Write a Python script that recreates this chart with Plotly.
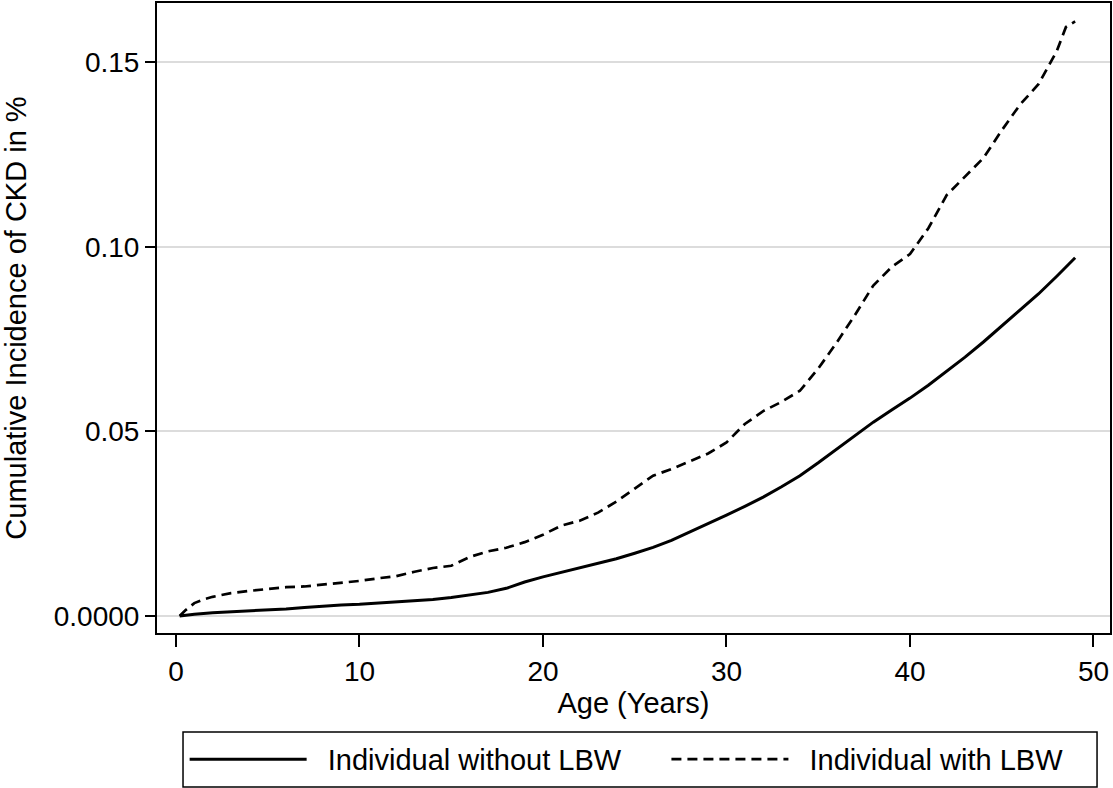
import plotly.graph_objects as go

# Data
age_no_lbw = [0.2, 1, 2, 3, 4, 5, 6, 7, 8, 9, 10, 11, 12, 13, 14, 15, 16, 17, 18, 19,
              20, 21, 22, 23, 24, 25, 26, 27, 28, 29, 30, 31, 32, 33, 34, 35, 36, 37,
              38, 39, 40, 41, 42, 43, 44, 45, 46, 47, 48, 49]
ci_no_lbw = [0.0, 0.0005, 0.0009, 0.0011, 0.0013, 0.0016, 0.0019, 0.0023, 0.0027, 0.0030,
             0.0032, 0.0035, 0.0038, 0.0041, 0.0045, 0.0050, 0.0056, 0.0064, 0.0075, 0.0092,
             0.0106, 0.0118, 0.0130, 0.0142, 0.0155, 0.0170, 0.0186, 0.0205, 0.0227, 0.0250,
             0.0273, 0.0297, 0.0322, 0.0350, 0.0380, 0.0415, 0.0452, 0.0490, 0.0525, 0.0558,
             0.0590, 0.0625, 0.0662, 0.0701, 0.0742, 0.0785, 0.0828, 0.0872, 0.0920, 0.0970]

age_lbw = [0.2, 0.5, 1, 1.5, 2, 3, 4, 5, 6, 7, 8, 9, 10, 11, 12, 13, 14, 15, 16, 17, 18,
           19, 20, 21, 22, 23, 24, 25, 26, 27, 28, 29, 30, 31, 32, 33, 34, 35, 36, 37, 38,
           39, 40, 41, 42, 43, 44, 45, 46, 47, 48, 48.5, 49]
ci_lbw = [0.0, 0.0015, 0.0035, 0.0045, 0.0052, 0.0062, 0.0068, 0.0073, 0.0078, 0.0080,
          0.0085, 0.0088, 0.0095, 0.0102, 0.0108, 0.0120, 0.0130, 0.0136, 0.0160, 0.0175,
          0.0185, 0.0200, 0.0220, 0.0245, 0.0258, 0.0280, 0.0310, 0.0345, 0.0380, 0.0398,
          0.0418, 0.0440, 0.0470, 0.0520, 0.0555, 0.0580, 0.0610, 0.0670, 0.0740, 0.0815,
          0.0895, 0.0945, 0.0980, 0.1050, 0.1140, 0.1190, 0.1240, 0.1315, 0.1385, 0.1440,
          0.1530, 0.1595, 0.1610]

x_ticks = [0, 10, 20, 30, 40, 50]
y_ticks = [0, 0.05, 0.10, 0.15]
y_ticktext = ["0.0000", "0.05", "0.10", "0.15"]

FONT = "Liberation Sans, Arial, sans-serif"
NB = "\u00a0\u00a0"
PAD = "\u00a0" * 5

fig = go.Figure()
fig.add_trace(go.Scatter(x=age_no_lbw, y=ci_no_lbw, mode="lines",
                         name=NB + "Individual without LBW" + PAD,
                         line=dict(color="black", width=3)))
fig.add_trace(go.Scatter(x=age_lbw, y=ci_lbw, mode="lines",
                         name=NB + "Individual with LBW",
                         line=dict(color="black", width=2.7, dash="10px,6px")))

# legend frame drawn as a paper-referenced rectangle
fig.add_shape(type="rect", xref="paper", yref="paper",
              x0=0.0273, x1=0.9864, y0=-0.2444, y1=-0.157,
              line=dict(color="black", width=1.5), fillcolor="rgba(0,0,0,0)", layer="above")

fig.update_layout(
    width=1113, height=788,
    margin=dict(l=157, r=3, t=3, b=155, autoexpand=False),
    paper_bgcolor="white", plot_bgcolor="white",
    font=dict(family=FONT, size=28, color="black"),
    showlegend=True,
    legend=dict(orientation="h", x=0.029, y=-0.160, xanchor="left", yanchor="top",
                borderwidth=0, bgcolor="rgba(0,0,0,0)",
                font=dict(size=29), itemwidth=117, tracegroupgap=0),
)
fig.update_xaxes(range=[-1.035, 50.9], tickmode="array", tickvals=x_ticks,
                 showline=True, linecolor="black", linewidth=2, mirror=True,
                 ticks="outside", ticklen=12, tickwidth=1.5, tickcolor="black",
                 showgrid=False, zeroline=False, tickfont=dict(size=28),
                 title=dict(text="Age (Years)", standoff=6, font=dict(size=29)))
fig.update_yaxes(range=[-0.0046, 0.166], tickmode="array", tickvals=y_ticks,
                 ticktext=y_ticktext,
                 showline=True, linecolor="black", linewidth=2, mirror=True,
                 ticks="outside", ticklen=10, tickwidth=1.5, tickcolor="black",
                 showgrid=True, gridcolor="#dcdcdc", gridwidth=2, zeroline=False,
                 tickfont=dict(size=28),
                 title=dict(text="Cumulative Incidence of CKD in %", standoff=20,
                            font=dict(size=29)))

fig.write_html("out.html", config={"displayModeBar": False},
               post_script="document.body.style.margin='0';document.body.style.overflow='hidden';")
